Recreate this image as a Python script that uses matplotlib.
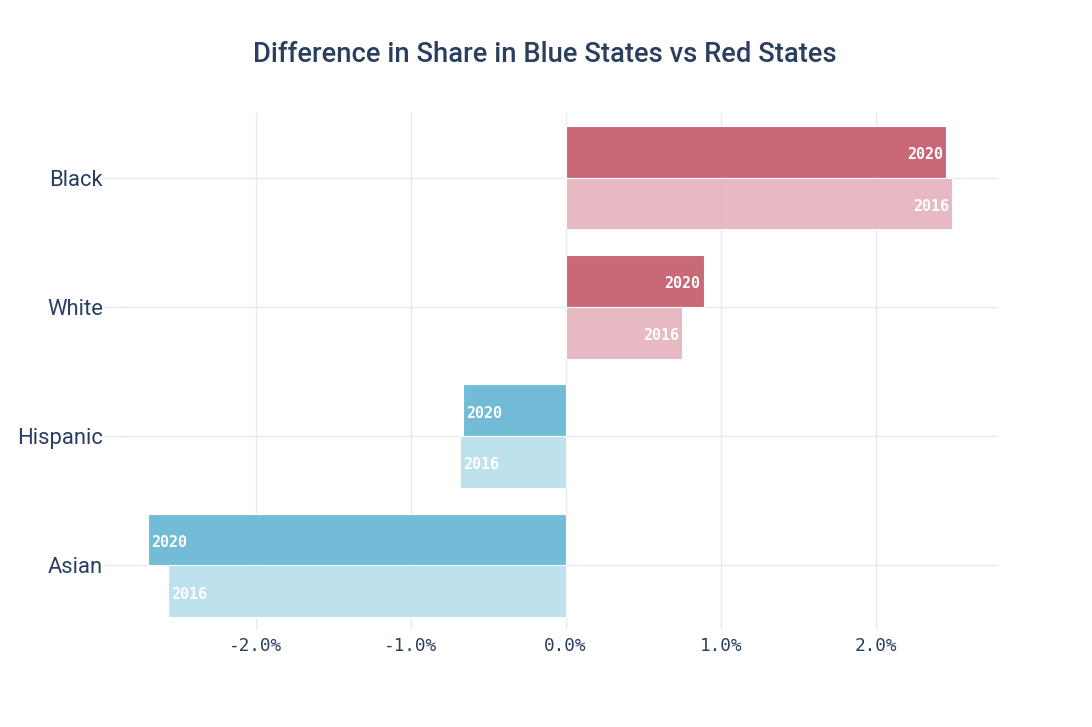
import numpy as np
import matplotlib
matplotlib.use('Agg')
import matplotlib.pyplot as plt

categories = ['Black', 'White', 'Hispanic', 'Asian']
share2020 = [2.455, 0.89, -0.66, -2.695]
share2016 = [2.495, 0.75, -0.68, -2.565]
xticks = [-2.0, -1.0, 0.0, 1.0, 2.0]
tickLabels = ['-2.0%', '-1.0%', '0.0%', '1.0%', '2.0%']

textColor = '#2a3f5f'
gridColor = '#e8e9ee'
red2020 = '#c96877'
red2016 = '#e5b3bd'
blue2020 = '#72bcd8'
blue2016 = '#b8dfec'

fig = plt.figure(figsize=(10.92, 7.27), dpi=100)
ax = fig.add_axes([120/1092, 1-630/727, (998-120)/1092, (630-113)/727])

y = np.arange(len(categories))
h = 0.4
col20 = [red2020 if v >= 0 else blue2020 for v in share2020]
col16 = [red2016 if v >= 0 else blue2016 for v in share2016]
ax.barh(y - h/2, share2020, height=h, color=col20, edgecolor='white', linewidth=0.8, zorder=3)
ax.barh(y + h/2, share2016, height=h, color=col16, edgecolor='white', linewidth=0.8, alpha=0.92, zorder=3)

# year labels inside the bar ends
for i in range(len(categories)):
    for yy, v, lab in [(y[i] - h/2, share2020[i], '2020'), (y[i] + h/2, share2016[i], '2016')]:
        if v >= 0:
            ax.text(v - 0.02, yy + 0.022, lab, ha='right', va='center', color='white',
                    fontsize=10.8, family='DejaVu Sans Mono', fontweight='semibold', zorder=4)
        else:
            ax.text(v + 0.02, yy + 0.022, lab, ha='left', va='center', color='white',
                    fontsize=10.8, family='DejaVu Sans Mono', fontweight='semibold', zorder=4)

ax.set_xlim(-2.875, 2.79)
ax.set_ylim(3.5, -0.5)
ax.set_xticks(xticks)
ax.set_xticklabels(tickLabels, family='DejaVu Sans Mono', fontsize=12.8, color=textColor)
ax.set_yticks(y)
ax.set_yticklabels(categories, family='Roboto', fontsize=15.8, color=textColor)
ax.tick_params(axis='x', length=0, pad=5)
ax.tick_params(axis='y', length=11.5, color=gridColor, width=1, pad=0.8)
ax.grid(True, color=gridColor, linewidth=1, zorder=0)
ax.set_axisbelow(True)
for s in ax.spines.values():
    s.set_visible(False)

fig.text(545/1092, 1-55/727, 'Difference in Share in Blue States vs Red States', ha='center', va='center',
         family='Roboto', fontweight='medium', fontsize=19.7, color=textColor)

fig.savefig('out.png', dpi=100)
